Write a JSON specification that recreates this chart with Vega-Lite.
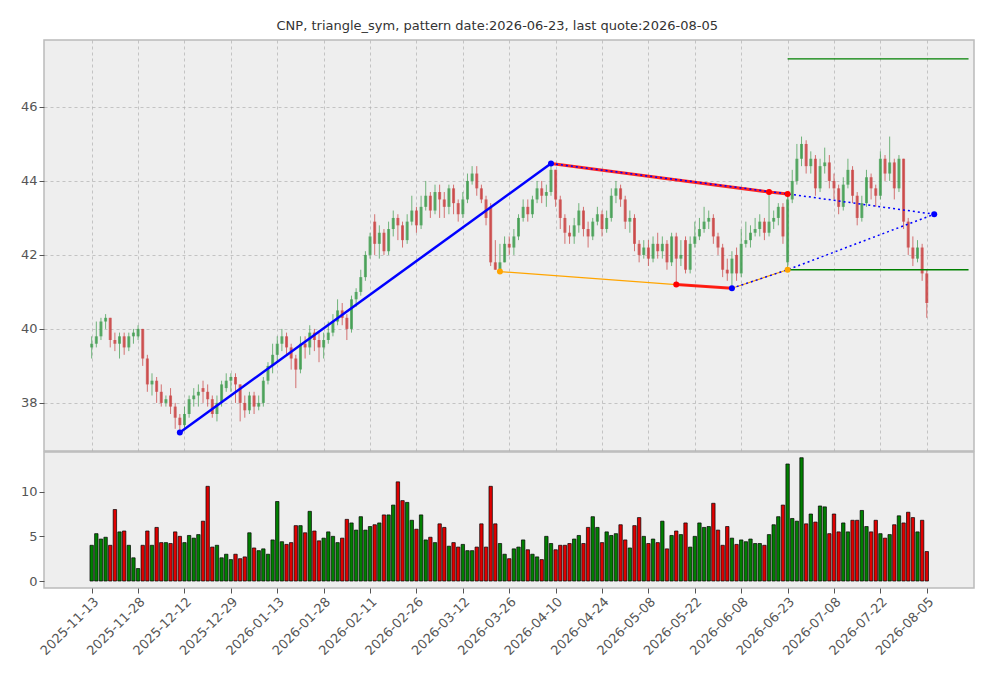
{
"$schema":"https://vega.github.io/schema/vega-lite/v6.json",
"background":"white",
"padding":{"left":19,"top":20,"right":8,"bottom":5},
"title":{"text":"CNP, triangle_sym, pattern date:2026-06-23, last quote:2026-08-05","font":"DejaVu Sans","fontSize":13,"fontWeight":"normal","color":"#333","anchor":"middle","offset":6},
"config":{"view":{"fill":"#eeeeee","stroke":"#bbbbbb","strokeWidth":1.5},"concat":{"spacing":-4},
"axis":{"labelFont":"DejaVu Sans","labelFontSize":13,"labelColor":"#555","tickColor":"#555","domain":false,"gridColor":"#b0b0b0","gridDash":[3,3],"gridWidth":0.7,"title":null}},
"datasets":{
"k":[
{"i":0,"d":"2025-11-13","o":39.5,"h":39.8,"l":39.2,"c":39.6,"v":4.0},
{"i":1,"d":"2025-11-14","o":39.6,"h":40.2,"l":39.5,"c":39.8,"v":5.3},
{"i":2,"d":"2025-11-17","o":39.8,"h":40.3,"l":39.7,"c":40.2,"v":4.7},
{"i":3,"d":"2025-11-18","o":40.2,"h":40.4,"l":40.0,"c":40.3,"v":4.9},
{"i":4,"d":"2025-11-19","o":40.3,"h":40.3,"l":39.5,"c":39.7,"v":4.0},
{"i":5,"d":"2025-11-20","o":39.7,"h":39.9,"l":39.4,"c":39.6,"v":8.0},
{"i":6,"d":"2025-11-21","o":39.6,"h":39.9,"l":39.2,"c":39.8,"v":5.5},
{"i":7,"d":"2025-11-24","o":39.8,"h":39.9,"l":39.3,"c":39.5,"v":5.6},
{"i":8,"d":"2025-11-25","o":39.5,"h":39.9,"l":39.4,"c":39.8,"v":4.0},
{"i":9,"d":"2025-11-26","o":39.8,"h":40.0,"l":39.6,"c":39.9,"v":2.6},
{"i":10,"d":"2025-11-28","o":39.8,"h":40.1,"l":39.7,"c":40.0,"v":1.4},
{"i":11,"d":"2025-12-01","o":40.0,"h":40.0,"l":39.0,"c":39.2,"v":4.0},
{"i":12,"d":"2025-12-02","o":39.2,"h":39.3,"l":38.3,"c":38.5,"v":5.6},
{"i":13,"d":"2025-12-03","o":38.5,"h":38.8,"l":38.2,"c":38.6,"v":4.0},
{"i":14,"d":"2025-12-04","o":38.6,"h":38.7,"l":38.0,"c":38.3,"v":6.0},
{"i":15,"d":"2025-12-05","o":38.3,"h":38.5,"l":37.9,"c":38.0,"v":4.3},
{"i":16,"d":"2025-12-08","o":38.0,"h":38.2,"l":37.9,"c":38.1,"v":4.3},
{"i":17,"d":"2025-12-09","o":38.2,"h":38.4,"l":37.7,"c":37.9,"v":4.2},
{"i":18,"d":"2025-12-10","o":37.9,"h":38.0,"l":37.3,"c":37.6,"v":5.5},
{"i":19,"d":"2025-12-11","o":37.6,"h":37.7,"l":37.2,"c":37.4,"v":5.0},
{"i":20,"d":"2025-12-12","o":37.4,"h":37.9,"l":37.3,"c":37.7,"v":4.3},
{"i":21,"d":"2025-12-15","o":37.7,"h":38.2,"l":37.6,"c":38.1,"v":5.1},
{"i":22,"d":"2025-12-16","o":38.1,"h":38.4,"l":37.9,"c":38.2,"v":4.8},
{"i":23,"d":"2025-12-17","o":38.2,"h":38.5,"l":37.9,"c":38.3,"v":5.2},
{"i":24,"d":"2025-12-18","o":38.4,"h":38.6,"l":38.0,"c":38.3,"v":6.7},
{"i":25,"d":"2025-12-19","o":38.3,"h":38.5,"l":37.9,"c":38.1,"v":10.6},
{"i":26,"d":"2025-12-22","o":38.1,"h":38.2,"l":37.6,"c":37.7,"v":3.8},
{"i":27,"d":"2025-12-23","o":37.7,"h":38.2,"l":37.5,"c":38.0,"v":4.0},
{"i":28,"d":"2025-12-24","o":38.0,"h":38.6,"l":37.9,"c":38.5,"v":2.6},
{"i":29,"d":"2025-12-26","o":38.4,"h":38.8,"l":38.3,"c":38.6,"v":3.0},
{"i":30,"d":"2025-12-29","o":38.6,"h":38.8,"l":38.3,"c":38.7,"v":2.4},
{"i":31,"d":"2025-12-30","o":38.7,"h":38.8,"l":38.0,"c":38.5,"v":3.0},
{"i":32,"d":"2025-12-31","o":38.5,"h":38.5,"l":37.5,"c":38.0,"v":2.5},
{"i":33,"d":"2026-01-02","o":38.0,"h":38.2,"l":37.6,"c":37.8,"v":2.7},
{"i":34,"d":"2026-01-05","o":37.8,"h":38.3,"l":37.7,"c":38.2,"v":5.4},
{"i":35,"d":"2026-01-06","o":38.2,"h":38.3,"l":37.7,"c":37.9,"v":3.7},
{"i":36,"d":"2026-01-07","o":37.9,"h":38.2,"l":37.8,"c":38.0,"v":3.4},
{"i":37,"d":"2026-01-08","o":38.0,"h":38.7,"l":37.9,"c":38.6,"v":3.6},
{"i":38,"d":"2026-01-09","o":38.6,"h":39.1,"l":38.5,"c":39.0,"v":3.0},
{"i":39,"d":"2026-01-12","o":39.0,"h":39.6,"l":38.8,"c":39.3,"v":4.6},
{"i":40,"d":"2026-01-13","o":39.3,"h":39.8,"l":39.1,"c":39.6,"v":8.9},
{"i":41,"d":"2026-01-14","o":39.6,"h":40.0,"l":39.4,"c":39.8,"v":4.4},
{"i":42,"d":"2026-01-15","o":39.8,"h":39.9,"l":39.3,"c":39.5,"v":4.1},
{"i":43,"d":"2026-01-16","o":39.5,"h":39.6,"l":38.9,"c":39.2,"v":4.3},
{"i":44,"d":"2026-01-20","o":39.2,"h":39.3,"l":38.4,"c":38.9,"v":6.2},
{"i":45,"d":"2026-01-21","o":38.9,"h":39.8,"l":38.8,"c":39.6,"v":6.2},
{"i":46,"d":"2026-01-22","o":39.6,"h":39.8,"l":39.2,"c":39.5,"v":5.4},
{"i":47,"d":"2026-01-23","o":39.5,"h":40.1,"l":39.3,"c":39.9,"v":7.8},
{"i":48,"d":"2026-01-26","o":39.9,"h":40.0,"l":39.4,"c":39.7,"v":5.6},
{"i":49,"d":"2026-01-27","o":39.7,"h":39.9,"l":39.1,"c":39.5,"v":4.5},
{"i":50,"d":"2026-01-28","o":39.5,"h":39.9,"l":39.2,"c":39.7,"v":4.8},
{"i":51,"d":"2026-01-29","o":39.7,"h":40.2,"l":39.6,"c":39.9,"v":5.5},
{"i":52,"d":"2026-01-30","o":39.9,"h":40.4,"l":39.8,"c":40.2,"v":5.0},
{"i":53,"d":"2026-02-02","o":40.2,"h":40.8,"l":40.1,"c":40.5,"v":4.3},
{"i":54,"d":"2026-02-03","o":40.5,"h":40.7,"l":40.1,"c":40.3,"v":4.8},
{"i":55,"d":"2026-02-04","o":40.3,"h":40.4,"l":39.7,"c":40.0,"v":6.9},
{"i":56,"d":"2026-02-05","o":40.0,"h":40.9,"l":39.9,"c":40.8,"v":6.5},
{"i":57,"d":"2026-02-06","o":40.8,"h":41.1,"l":40.6,"c":41.0,"v":5.7},
{"i":58,"d":"2026-02-09","o":41.0,"h":41.6,"l":40.9,"c":41.4,"v":7.2},
{"i":59,"d":"2026-02-10","o":41.4,"h":42.1,"l":41.3,"c":42.0,"v":5.7},
{"i":60,"d":"2026-02-11","o":42.0,"h":42.6,"l":41.9,"c":42.5,"v":6.1},
{"i":61,"d":"2026-02-12","o":42.9,"h":43.1,"l":42.0,"c":42.3,"v":6.3},
{"i":62,"d":"2026-02-13","o":42.3,"h":42.8,"l":41.9,"c":42.6,"v":6.5},
{"i":63,"d":"2026-02-17","o":42.6,"h":42.7,"l":42.0,"c":42.1,"v":7.4},
{"i":64,"d":"2026-02-18","o":42.1,"h":42.9,"l":42.0,"c":42.7,"v":7.4},
{"i":65,"d":"2026-02-19","o":42.7,"h":43.2,"l":42.5,"c":43.0,"v":8.5},
{"i":66,"d":"2026-02-20","o":43.0,"h":43.1,"l":42.4,"c":42.8,"v":11.1},
{"i":67,"d":"2026-02-23","o":42.8,"h":42.9,"l":42.2,"c":42.4,"v":9.0},
{"i":68,"d":"2026-02-24","o":42.4,"h":43.1,"l":42.3,"c":42.9,"v":8.8},
{"i":69,"d":"2026-02-25","o":42.9,"h":43.6,"l":42.8,"c":43.2,"v":6.8},
{"i":70,"d":"2026-02-26","o":43.2,"h":43.3,"l":42.6,"c":42.8,"v":5.8},
{"i":71,"d":"2026-02-27","o":42.8,"h":43.6,"l":42.7,"c":43.3,"v":7.4},
{"i":72,"d":"2026-03-02","o":43.3,"h":44.0,"l":43.2,"c":43.6,"v":4.6},
{"i":73,"d":"2026-03-03","o":43.6,"h":43.7,"l":43.0,"c":43.2,"v":4.9},
{"i":74,"d":"2026-03-04","o":43.2,"h":43.9,"l":43.1,"c":43.7,"v":4.3},
{"i":75,"d":"2026-03-05","o":43.7,"h":43.9,"l":43.0,"c":43.5,"v":6.4},
{"i":76,"d":"2026-03-06","o":43.5,"h":43.7,"l":43.0,"c":43.3,"v":6.0},
{"i":77,"d":"2026-03-09","o":43.3,"h":43.9,"l":43.1,"c":43.8,"v":3.9},
{"i":78,"d":"2026-03-10","o":43.8,"h":43.9,"l":43.1,"c":43.4,"v":4.3},
{"i":79,"d":"2026-03-11","o":43.4,"h":43.5,"l":42.9,"c":43.1,"v":3.8},
{"i":80,"d":"2026-03-12","o":43.1,"h":43.7,"l":43.0,"c":43.5,"v":4.1},
{"i":81,"d":"2026-03-13","o":43.5,"h":44.2,"l":43.4,"c":44.0,"v":3.4},
{"i":82,"d":"2026-03-16","o":44.0,"h":44.4,"l":43.9,"c":44.2,"v":3.4},
{"i":83,"d":"2026-03-17","o":44.2,"h":44.4,"l":43.6,"c":43.8,"v":3.8},
{"i":84,"d":"2026-03-18","o":43.8,"h":43.9,"l":43.4,"c":43.5,"v":6.4},
{"i":85,"d":"2026-03-19","o":43.5,"h":43.6,"l":42.8,"c":43.0,"v":3.8},
{"i":86,"d":"2026-03-20","o":43.3,"h":43.4,"l":41.7,"c":41.8,"v":10.6},
{"i":87,"d":"2026-03-23","o":41.8,"h":42.4,"l":41.6,"c":41.6,"v":6.4},
{"i":88,"d":"2026-03-24","o":41.6,"h":42.3,"l":41.55,"c":41.8,"v":4.2},
{"i":89,"d":"2026-03-25","o":41.8,"h":42.5,"l":41.8,"c":42.3,"v":3.0},
{"i":90,"d":"2026-03-26","o":42.3,"h":42.5,"l":42.0,"c":42.2,"v":2.5},
{"i":91,"d":"2026-03-27","o":42.2,"h":42.7,"l":42.0,"c":42.5,"v":3.6},
{"i":92,"d":"2026-03-30","o":42.5,"h":43.1,"l":42.4,"c":43.0,"v":3.8},
{"i":93,"d":"2026-03-31","o":43.0,"h":43.5,"l":42.9,"c":43.3,"v":4.6},
{"i":94,"d":"2026-04-01","o":43.3,"h":43.5,"l":42.9,"c":43.1,"v":3.5},
{"i":95,"d":"2026-04-02","o":43.1,"h":43.6,"l":43.0,"c":43.5,"v":3.0},
{"i":96,"d":"2026-04-06","o":43.5,"h":44.0,"l":43.4,"c":43.8,"v":2.7},
{"i":97,"d":"2026-04-07","o":43.8,"h":44.0,"l":43.4,"c":43.6,"v":2.4},
{"i":98,"d":"2026-04-08","o":43.6,"h":43.9,"l":43.3,"c":43.7,"v":5.0},
{"i":99,"d":"2026-04-09","o":43.7,"h":44.5,"l":43.6,"c":44.3,"v":4.2},
{"i":100,"d":"2026-04-10","o":44.3,"h":44.3,"l":43.3,"c":43.5,"v":3.5},
{"i":101,"d":"2026-04-13","o":43.5,"h":43.6,"l":42.7,"c":43.0,"v":4.0},
{"i":102,"d":"2026-04-14","o":43.0,"h":43.1,"l":42.3,"c":42.6,"v":4.0},
{"i":103,"d":"2026-04-15","o":42.6,"h":42.8,"l":42.3,"c":42.5,"v":4.2},
{"i":104,"d":"2026-04-16","o":42.5,"h":43.0,"l":42.3,"c":42.8,"v":4.7},
{"i":105,"d":"2026-04-17","o":42.8,"h":43.4,"l":42.6,"c":43.2,"v":5.1},
{"i":106,"d":"2026-04-20","o":43.2,"h":43.3,"l":42.5,"c":42.7,"v":4.2},
{"i":107,"d":"2026-04-21","o":42.7,"h":42.9,"l":42.2,"c":42.5,"v":6.0},
{"i":108,"d":"2026-04-22","o":42.5,"h":43.0,"l":42.4,"c":42.9,"v":7.2},
{"i":109,"d":"2026-04-23","o":42.9,"h":43.3,"l":42.8,"c":43.1,"v":6.0},
{"i":110,"d":"2026-04-24","o":43.1,"h":43.2,"l":42.5,"c":42.7,"v":4.3},
{"i":111,"d":"2026-04-27","o":42.7,"h":43.2,"l":42.6,"c":43.0,"v":5.5},
{"i":112,"d":"2026-04-28","o":43.0,"h":43.8,"l":42.9,"c":43.6,"v":5.1},
{"i":113,"d":"2026-04-29","o":43.6,"h":44.0,"l":43.4,"c":43.8,"v":5.3},
{"i":114,"d":"2026-04-30","o":43.8,"h":43.9,"l":43.3,"c":43.5,"v":6.3},
{"i":115,"d":"2026-05-01","o":43.5,"h":43.6,"l":42.7,"c":42.9,"v":4.6},
{"i":116,"d":"2026-05-04","o":42.9,"h":43.2,"l":42.6,"c":43.0,"v":3.7},
{"i":117,"d":"2026-05-05","o":43.0,"h":43.1,"l":42.1,"c":42.3,"v":6.2},
{"i":118,"d":"2026-05-06","o":42.3,"h":42.4,"l":41.8,"c":42.0,"v":7.1},
{"i":119,"d":"2026-05-07","o":42.0,"h":42.4,"l":41.9,"c":42.2,"v":5.0},
{"i":120,"d":"2026-05-08","o":42.2,"h":42.4,"l":41.7,"c":41.9,"v":4.2},
{"i":121,"d":"2026-05-11","o":41.9,"h":42.5,"l":41.8,"c":42.3,"v":4.7},
{"i":122,"d":"2026-05-12","o":42.3,"h":42.6,"l":41.9,"c":42.1,"v":4.3},
{"i":123,"d":"2026-05-13","o":42.1,"h":42.5,"l":41.9,"c":42.3,"v":6.7},
{"i":124,"d":"2026-05-14","o":42.3,"h":42.4,"l":41.6,"c":41.8,"v":3.6},
{"i":125,"d":"2026-05-15","o":41.8,"h":42.6,"l":41.7,"c":42.5,"v":5.1},
{"i":126,"d":"2026-05-18","o":42.5,"h":42.6,"l":41.2,"c":41.9,"v":5.6},
{"i":127,"d":"2026-05-19","o":41.9,"h":42.4,"l":41.7,"c":42.0,"v":5.2},
{"i":128,"d":"2026-05-20","o":42.4,"h":42.5,"l":41.5,"c":41.6,"v":6.5},
{"i":129,"d":"2026-05-21","o":41.6,"h":42.5,"l":41.5,"c":42.3,"v":3.8},
{"i":130,"d":"2026-05-22","o":42.3,"h":42.9,"l":42.2,"c":42.5,"v":5.0},
{"i":131,"d":"2026-05-26","o":42.5,"h":43.0,"l":42.4,"c":42.7,"v":6.5},
{"i":132,"d":"2026-05-27","o":42.7,"h":43.3,"l":42.6,"c":42.9,"v":6.0},
{"i":133,"d":"2026-05-28","o":42.9,"h":43.2,"l":42.7,"c":43.0,"v":6.1},
{"i":134,"d":"2026-05-29","o":43.0,"h":43.1,"l":42.3,"c":42.5,"v":8.7},
{"i":135,"d":"2026-06-01","o":42.5,"h":42.6,"l":42.0,"c":42.2,"v":5.7},
{"i":136,"d":"2026-06-02","o":42.2,"h":42.3,"l":41.4,"c":41.6,"v":4.0},
{"i":137,"d":"2026-06-03","o":41.6,"h":41.9,"l":41.3,"c":41.5,"v":6.1},
{"i":138,"d":"2026-06-04","o":41.5,"h":42.1,"l":41.1,"c":41.9,"v":4.8},
{"i":139,"d":"2026-06-05","o":42.0,"h":42.2,"l":41.3,"c":41.5,"v":4.1},
{"i":140,"d":"2026-06-08","o":41.5,"h":42.7,"l":41.4,"c":42.3,"v":4.6},
{"i":141,"d":"2026-06-09","o":42.3,"h":42.9,"l":42.2,"c":42.4,"v":4.4},
{"i":142,"d":"2026-06-10","o":42.4,"h":42.8,"l":42.2,"c":42.6,"v":4.7},
{"i":143,"d":"2026-06-11","o":42.6,"h":43.0,"l":42.5,"c":42.7,"v":4.2},
{"i":144,"d":"2026-06-12","o":42.7,"h":43.1,"l":42.5,"c":42.9,"v":4.2},
{"i":145,"d":"2026-06-15","o":42.9,"h":43.0,"l":42.4,"c":42.6,"v":4.0},
{"i":146,"d":"2026-06-16","o":42.6,"h":43.7,"l":42.5,"c":42.9,"v":5.2},
{"i":147,"d":"2026-06-17","o":42.9,"h":43.2,"l":42.7,"c":43.0,"v":6.3},
{"i":148,"d":"2026-06-18","o":43.0,"h":43.4,"l":42.8,"c":43.3,"v":7.2},
{"i":149,"d":"2026-06-22","o":43.3,"h":43.4,"l":42.3,"c":42.5,"v":8.5},
{"i":150,"d":"2026-06-23","o":41.8,"h":43.65,"l":41.6,"c":43.5,"v":13.1},
{"i":151,"d":"2026-06-24","o":43.5,"h":44.3,"l":43.4,"c":44.0,"v":7.0},
{"i":152,"d":"2026-06-25","o":44.0,"h":45.0,"l":43.9,"c":44.6,"v":6.7},
{"i":153,"d":"2026-06-26","o":44.6,"h":45.2,"l":44.4,"c":45.0,"v":13.8},
{"i":154,"d":"2026-06-29","o":45.0,"h":45.1,"l":44.2,"c":44.4,"v":6.4},
{"i":155,"d":"2026-06-30","o":44.4,"h":44.8,"l":44.2,"c":44.6,"v":7.5},
{"i":156,"d":"2026-07-01","o":44.6,"h":44.7,"l":43.6,"c":43.8,"v":6.6},
{"i":157,"d":"2026-07-02","o":43.8,"h":44.6,"l":43.7,"c":44.4,"v":8.4},
{"i":158,"d":"2026-07-06","o":44.4,"h":44.9,"l":44.2,"c":44.5,"v":8.3},
{"i":159,"d":"2026-07-07","o":44.5,"h":44.7,"l":43.8,"c":44.0,"v":5.3},
{"i":160,"d":"2026-07-08","o":44.0,"h":44.2,"l":43.5,"c":43.8,"v":7.5},
{"i":161,"d":"2026-07-09","o":43.8,"h":43.9,"l":43.1,"c":43.3,"v":5.5},
{"i":162,"d":"2026-07-10","o":43.3,"h":44.1,"l":43.2,"c":43.9,"v":6.5},
{"i":163,"d":"2026-07-13","o":43.9,"h":44.6,"l":43.8,"c":44.3,"v":5.5},
{"i":164,"d":"2026-07-14","o":44.3,"h":44.4,"l":43.4,"c":43.6,"v":6.8},
{"i":165,"d":"2026-07-15","o":43.6,"h":43.7,"l":42.8,"c":43.0,"v":6.8},
{"i":166,"d":"2026-07-16","o":43.0,"h":43.6,"l":42.9,"c":43.4,"v":7.9},
{"i":167,"d":"2026-07-17","o":43.4,"h":44.3,"l":43.3,"c":44.1,"v":6.1},
{"i":168,"d":"2026-07-20","o":44.1,"h":44.2,"l":43.5,"c":43.8,"v":5.5},
{"i":169,"d":"2026-07-21","o":43.8,"h":43.9,"l":43.3,"c":43.6,"v":6.8},
{"i":170,"d":"2026-07-22","o":43.6,"h":44.8,"l":43.5,"c":44.6,"v":5.3},
{"i":171,"d":"2026-07-23","o":44.6,"h":44.7,"l":44.0,"c":44.2,"v":4.8},
{"i":172,"d":"2026-07-24","o":44.2,"h":45.2,"l":44.0,"c":44.5,"v":5.2},
{"i":173,"d":"2026-07-27","o":44.5,"h":44.6,"l":43.5,"c":43.8,"v":6.3},
{"i":174,"d":"2026-07-28","o":43.8,"h":44.7,"l":43.7,"c":44.6,"v":7.3},
{"i":175,"d":"2026-07-29","o":44.6,"h":44.6,"l":42.7,"c":42.9,"v":6.5},
{"i":176,"d":"2026-07-30","o":42.9,"h":43.0,"l":42.0,"c":42.2,"v":7.7},
{"i":177,"d":"2026-07-31","o":42.2,"h":42.5,"l":41.7,"c":41.9,"v":7.1},
{"i":178,"d":"2026-08-03","o":41.9,"h":42.4,"l":41.8,"c":42.2,"v":5.5},
{"i":179,"d":"2026-08-04","o":42.2,"h":42.3,"l":41.3,"c":41.5,"v":6.8},
{"i":180,"d":"2026-08-05","o":41.5,"h":41.6,"l":40.3,"c":40.7,"v":3.3}
],
"pl":[
{"s":"blue","g":"a","i":19,"p":37.2},{"s":"blue","g":"a","i":99,"p":44.47},
{"s":"orange","g":"o1","i":88,"p":41.55},{"s":"orange","g":"o1","i":126,"p":41.2},{"s":"orange","g":"o1","i":138,"p":41.1},{"s":"orange","g":"o1","i":150,"p":41.6},
{"s":"red","g":"r1","i":99,"p":44.47},{"s":"red","g":"r1","i":146,"p":43.7},{"s":"red","g":"r1","i":150,"p":43.65},
{"s":"red","g":"r2","i":126,"p":41.2},{"s":"red","g":"r2","i":138,"p":41.1},
{"s":"dot","g":"d1","i":99,"p":44.47},{"s":"dot","g":"d1","i":150,"p":43.65},{"s":"dot","g":"d1","i":181.6,"p":43.1},
{"s":"dot","g":"d2","i":138,"p":41.1},{"s":"dot","g":"d2","i":150,"p":41.6},{"s":"dot","g":"d2","i":181.6,"p":43.1},
{"s":"green","g":"g1","i":150,"p":47.3},{"s":"green","g":"g1","i":189,"p":47.3},
{"s":"green","g":"g2","i":150,"p":41.6},{"s":"green","g":"g2","i":189,"p":41.6}
],
"pt":[
{"i":19,"p":37.2,"col":"blue"},{"i":99,"p":44.47,"col":"blue"},{"i":138,"p":41.1,"col":"blue"},{"i":181.6,"p":43.1,"col":"blue"},
{"i":126,"p":41.2,"col":"red"},{"i":146,"p":43.7,"col":"red"},{"i":150,"p":43.65,"col":"red"},
{"i":88,"p":41.55,"col":"orange"},{"i":150,"p":41.6,"col":"orange"}
]},
"vconcat":[
{"width":930,"height":411,
"layer":[
{"data":{"name":"k"},"mark":{"type":"rule","strokeWidth":1,"opacity":0.7},
 "encoding":{"x":{"field":"i","type":"quantitative","scale":{"domain":[-9.2,189.1],"nice":false,"zero":false},"axis":{"values":[0,10,20,30,40,50,60,70,80,90,100,110,120,130,140,150,160,170,180],"labels":false,"ticks":false}},
 "y":{"field":"l","type":"quantitative","scale":{"domain":[36.7,47.81],"nice":false,"zero":false},"axis":{"values":[38,40,42,44,46]}},
 "y2":{"field":"h"},
 "color":{"condition":{"test":"datum.c>=datum.o","value":"#3a9a4a"},"value":"#c83c3c"}}},
{"data":{"name":"k"},"mark":{"type":"bar","size":3,"opacity":0.75},
 "encoding":{"x":{"field":"i","type":"quantitative"},"y":{"field":"o","type":"quantitative"},"y2":{"field":"c"},
 "color":{"condition":{"test":"datum.c>=datum.o","value":"#3a9a4a"},"value":"#c83c3c"}}},
{"data":{"name":"pl"},"transform":[{"filter":"datum.s=='green'"}],"mark":{"type":"line","color":"green","strokeWidth":1.3},
 "encoding":{"x":{"field":"i","type":"quantitative"},"y":{"field":"p","type":"quantitative"},"detail":{"field":"g"},"order":{"field":"i"}}},
{"data":{"name":"pl"},"transform":[{"filter":"datum.s=='orange'"}],"mark":{"type":"line","color":"orange","strokeWidth":1.2},
 "encoding":{"x":{"field":"i","type":"quantitative"},"y":{"field":"p","type":"quantitative"},"detail":{"field":"g"},"order":{"field":"i"}}},
{"data":{"name":"pl"},"transform":[{"filter":"datum.s=='red'"}],"mark":{"type":"line","color":"red","strokeWidth":3,"opacity":0.85},
 "encoding":{"x":{"field":"i","type":"quantitative"},"y":{"field":"p","type":"quantitative"},"detail":{"field":"g"},"order":{"field":"i"}}},
{"data":{"name":"pl"},"transform":[{"filter":"datum.s=='dot'"}],"mark":{"type":"line","color":"blue","strokeWidth":1.5,"strokeDash":[2,3]},
 "encoding":{"x":{"field":"i","type":"quantitative"},"y":{"field":"p","type":"quantitative"},"detail":{"field":"g"},"order":{"field":"i"}}},
{"data":{"name":"pl"},"transform":[{"filter":"datum.s=='blue'"}],"mark":{"type":"line","color":"blue","strokeWidth":2.5},
 "encoding":{"x":{"field":"i","type":"quantitative"},"y":{"field":"p","type":"quantitative"},"detail":{"field":"g"},"order":{"field":"i"}}},
{"data":{"name":"pt"},"mark":{"type":"circle","size":36,"opacity":1},
 "encoding":{"x":{"field":"i","type":"quantitative"},"y":{"field":"p","type":"quantitative"},"color":{"field":"col","type":"nominal","scale":null}}}
]},
{"width":930,"height":136,
"data":{"name":"k"},
"mark":{"type":"bar","size":3.4,"stroke":"black","strokeWidth":0.7},
"encoding":{"x":{"field":"i","type":"quantitative","scale":{"domain":[-9.2,189.1],"nice":false,"zero":false},"axis":{"values":[0,10,20,30,40,50,60,70,80,90,100,110,120,130,140,150,160,170,180],"grid":false,"labelAngle":-45,"labelAlign":"right","labelOverlap":false,"labelExpr":"['2025-11-13','2025-11-28','2025-12-12','2025-12-29','2026-01-13','2026-01-28','2026-02-11','2026-02-26','2026-03-12','2026-03-26','2026-04-10','2026-04-24','2026-05-08','2026-05-22','2026-06-08','2026-06-23','2026-07-08','2026-07-22','2026-08-05'][round(datum.value/10)]"}},
"y":{"field":"v","type":"quantitative","scale":{"domain":[-0.78,14.44],"nice":false,"zero":false},"axis":{"values":[0,5,10],"grid":false}},
"y2":{"datum":0},
"color":{"condition":{"test":"datum.c>=datum.o","value":"#008000"},"value":"#e00000"}}}
]}
